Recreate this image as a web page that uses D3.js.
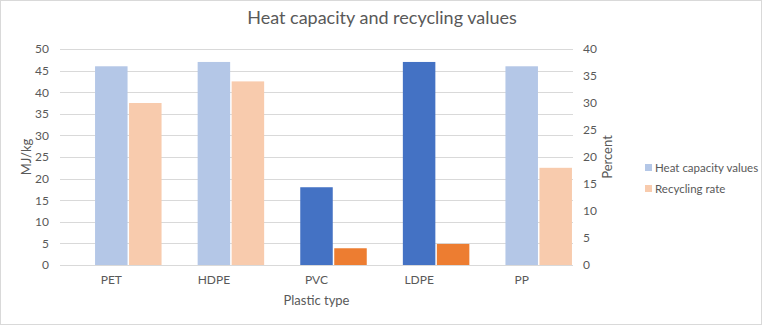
<!DOCTYPE html>
<html>
<head>
<meta charset="utf-8">
<script src="https://cdn.jsdelivr.net/npm/d3@7"></script>
<style>
  body { margin: 0; background: #fff; }
  text { font-family: Lato, "Open Sans", sans-serif; fill: #595959; }
</style>
</head>
<body>
<script>
// chart data
var categories = ["PET", "HDPE", "PVC", "LDPE", "PP"];
var heatValues = [46, 47, 18, 47, 46];        // MJ/kg
var recyclingRate = [30, 34, 3.1, 3.9, 18];   // percent
var highlighted = [false, false, true, true, false];
var leftTicks = [0, 5, 10, 15, 20, 25, 30, 35, 40, 45, 50];
var rightTicks = [0, 5, 10, 15, 20, 25, 30, 35, 40];

const width = 762;
const height = 325;
const plot = { left: 60, right: 573, top: 49, bottom: 265 };

const svg = d3.select("body")
  .append("svg")
  .attr("width", width)
  .attr("height", height);

// chart border
svg.append("rect")
  .attr("x", 0.5).attr("y", 0.5)
  .attr("width", width - 1).attr("height", height - 1)
  .attr("fill", "#fff")
  .attr("stroke", "#d9d9d9");

var x = d3.scaleBand()
  .domain(categories)
  .range([plot.left, plot.right]);

var yLeft = d3.scaleLinear().domain([0, 50]).range([plot.bottom, plot.top]);
var yRight = d3.scaleLinear().domain([0, 40]).range([plot.bottom, plot.top]);

// gridlines
svg.append("g")
  .selectAll("line")
  .data(leftTicks)
  .enter()
  .append("line")
  .attr("x1", plot.left)
  .attr("x2", plot.right)
  .attr("y1", function(d) { return Math.round(yLeft(d)) + 0.5; })
  .attr("y2", function(d) { return Math.round(yLeft(d)) + 0.5; })
  .attr("stroke", "#d9d9d9")
  .attr("stroke-width", 1);

var barW = 32.5;

// heat capacity bars (primary axis), centered on category
svg.append("g")
  .selectAll("rect")
  .data(heatValues)
  .enter()
  .append("rect")
  .attr("x", function(d, i) { return x(categories[i]) + x.bandwidth() / 2 - barW / 2; })
  .attr("y", function(d) { return yLeft(d); })
  .attr("width", barW)
  .attr("height", function(d) { return plot.bottom - yLeft(d); })
  .attr("fill", function(d, i) { return highlighted[i] ? "#4472c4" : "#b4c7e7"; });

// recycling bars (secondary axis), right of the heat bar
svg.append("g")
  .selectAll("rect")
  .data(recyclingRate)
  .enter()
  .append("rect")
  .attr("x", function(d, i) { return x(categories[i]) + x.bandwidth() / 2 + barW / 2 + 1.5; })
  .attr("y", function(d) { return yRight(d); })
  .attr("width", barW)
  .attr("height", function(d) { return plot.bottom - yRight(d); })
  .attr("fill", function(d, i) { return highlighted[i] ? "#ed7d31" : "#f8cbad"; });

// baseline
svg.append("line")
  .attr("x1", plot.left).attr("x2", plot.right)
  .attr("y1", plot.bottom + 0.5).attr("y2", plot.bottom + 0.5)
  .attr("stroke", "#d9d9d9");

// left axis
var leftAxis = svg.append("g")
  .attr("transform", "translate(" + (plot.left - 11) + ",0)")
  .call(d3.axisLeft(yLeft).tickValues(leftTicks).tickSize(0).tickPadding(0));
leftAxis.select(".domain").remove();
leftAxis.selectAll("text").style("font-size", "12px").attr("fill", "#595959");

// right axis
var rightAxis = svg.append("g")
  .attr("transform", "translate(" + (plot.right + 10) + ",0)")
  .call(d3.axisRight(yRight).tickValues(rightTicks).tickSize(0).tickPadding(0));
rightAxis.select(".domain").remove();
rightAxis.selectAll("text").style("font-size", "12px").attr("fill", "#595959");

// category labels
var bottomAxis = svg.append("g")
  .attr("transform", "translate(0," + (plot.bottom + 10) + ")")
  .call(d3.axisBottom(x).tickSize(0).tickPadding(0));
bottomAxis.select(".domain").remove();
bottomAxis.selectAll("text").style("font-size", "12px").attr("fill", "#595959");

// title
svg.append("text")
  .attr("x", 382)
  .attr("y", 24)
  .attr("text-anchor", "middle")
  .style("font-size", "18px")
  .text("Heat capacity and recycling values");

// axis titles
svg.append("text")
  .attr("x", (plot.left + plot.right) / 2)
  .attr("y", 305)
  .attr("text-anchor", "middle")
  .style("font-size", "13px")
  .text("Plastic type");

svg.append("text")
  .attr("transform", "translate(31,157) rotate(-90)")
  .attr("text-anchor", "middle")
  .style("font-size", "13px")
  .text("MJ/kg");

svg.append("text")
  .attr("transform", "translate(612,157) rotate(-90)")
  .attr("text-anchor", "middle")
  .style("font-size", "13px")
  .text("Percent");

// legend
var legendItems = [
  { label: "Heat capacity values", color: "#b4c7e7" },
  { label: "Recycling rate", color: "#f8cbad" }
];
var legend = svg.append("g")
  .selectAll("g")
  .data(legendItems)
  .enter()
  .append("g")
  .attr("transform", function(d, i) { return "translate(645," + (164 + i * 21) + ")"; });
legend.append("rect")
  .attr("width", 7).attr("height", 7)
  .attr("fill", function(d) { return d.color; });
legend.append("text")
  .attr("x", 10)
  .attr("y", 7.5)
  .style("font-size", "11.5px")
  .text(function(d) { return d.label; });
</script>
</body>
</html>
